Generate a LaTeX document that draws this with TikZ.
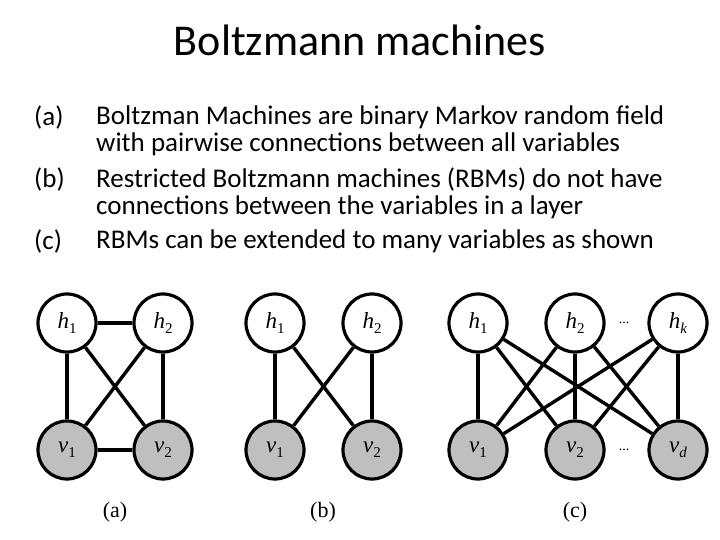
\documentclass[tikz,border=0pt]{standalone}
\usepackage{fontspec}
\setmainfont{Carlito}
\newfontfamily\timesf{Liberation Serif}
\newcommand\unite[2]{{\timesf\itshape #1}{\timesf\fontsize{15}{15}\selectfont\raisebox{-5pt}{#2}}}
\begin{document}
\begin{tikzpicture}[x=1pt,y=-1pt,
    hid/.style={circle, draw, line width=3.2pt, minimum size=58pt, inner sep=0pt, fill=white, font=\fontsize{23}{24}\selectfont},
    vis/.style={hid, fill=black!25},
    lien/.style={line width=3.4pt},
    corps/.style={anchor=north west, align=left, inner sep=0pt, font=\fontsize{27}{27}\selectfont},
    lab/.style={font=\timesf\fontsize{22}{24}\selectfont}]
    \useasboundingbox (0,0) rectangle (720,540);

    % Titre et texte
    \node (titre) at (360,40) {\fontsize{44}{48}\selectfont Boltzmann machines};
    \node[corps] (ia) at (34,106) {(a)};
    \node[corps] (ib) at (34,168) {(b)};
    \node[corps] (ic) at (34,230) {(c)};
    \node[corps] (ta) at (96,106) {Boltzman Machines are binary Markov random field\\with pairwise connections between all variables};
    \node[corps] (tb) at (96,168) {Restricted Boltzmann machines (RBMs) do not have\\connections between the variables in a layer};
    \node[corps] (tc) at (96,230) {RBMs can be extended to many variables as shown};

    % Graphe (a)
    \node[hid] (ah1) at (67,323) {\unite{h}{1}};
    \node[hid] (ah2) at (163,323) {\unite{h}{2}};
    \node[vis] (av1) at (67,450) {\unite{v}{1}};
    \node[vis] (av2) at (163,450) {\unite{v}{2}};
    \draw[lien] (ah1) -- (ah2);
    \draw[lien] (av1) -- (av2);
    \draw[lien] (ah1) -- (av1);
    \draw[lien] (ah2) -- (av2);
    \draw[lien] (ah1) -- (av2);
    \draw[lien] (ah2) -- (av1);
    \node[lab] (la) at (115,512) {(a)};

    % Graphe (b)
    \node[hid] (bh1) at (275,323) {\unite{h}{1}};
    \node[hid] (bh2) at (372,323) {\unite{h}{2}};
    \node[vis] (bv1) at (275,450) {\unite{v}{1}};
    \node[vis] (bv2) at (372,450) {\unite{v}{2}};
    \foreach \i in {1,2}
        \foreach \j in {1,2}
            \draw[lien] (bh\i) -- (bv\j);
    \node[lab] (lb) at (323,512) {(b)};

    % Graphe (c)
    \node[hid] (ch1) at (478,323) {\unite{h}{1}};
    \node[hid] (ch2) at (575,323) {\unite{h}{2}};
    \node[hid] (ch3) at (678,323) {\unite{h}{\itshape k}};
    \node[vis] (cv1) at (478,450) {\unite{v}{1}};
    \node[vis] (cv2) at (575,450) {\unite{v}{2}};
    \node[vis] (cv3) at (678,450) {\unite{v}{\itshape d}};
    \foreach \i in {1,2,3}
        \foreach \j in {1,2,3}
            \draw[lien] (ch\i) -- (cv\j);
    \node[font=\timesf\fontsize{14}{14}\selectfont] (hdots) at (624,323) {...};
    \node[font=\timesf\fontsize{14}{14}\selectfont] (vdots) at (624,450) {...};
    \node[lab] (lc) at (575,512) {(c)};
\end{tikzpicture}
\end{document}
